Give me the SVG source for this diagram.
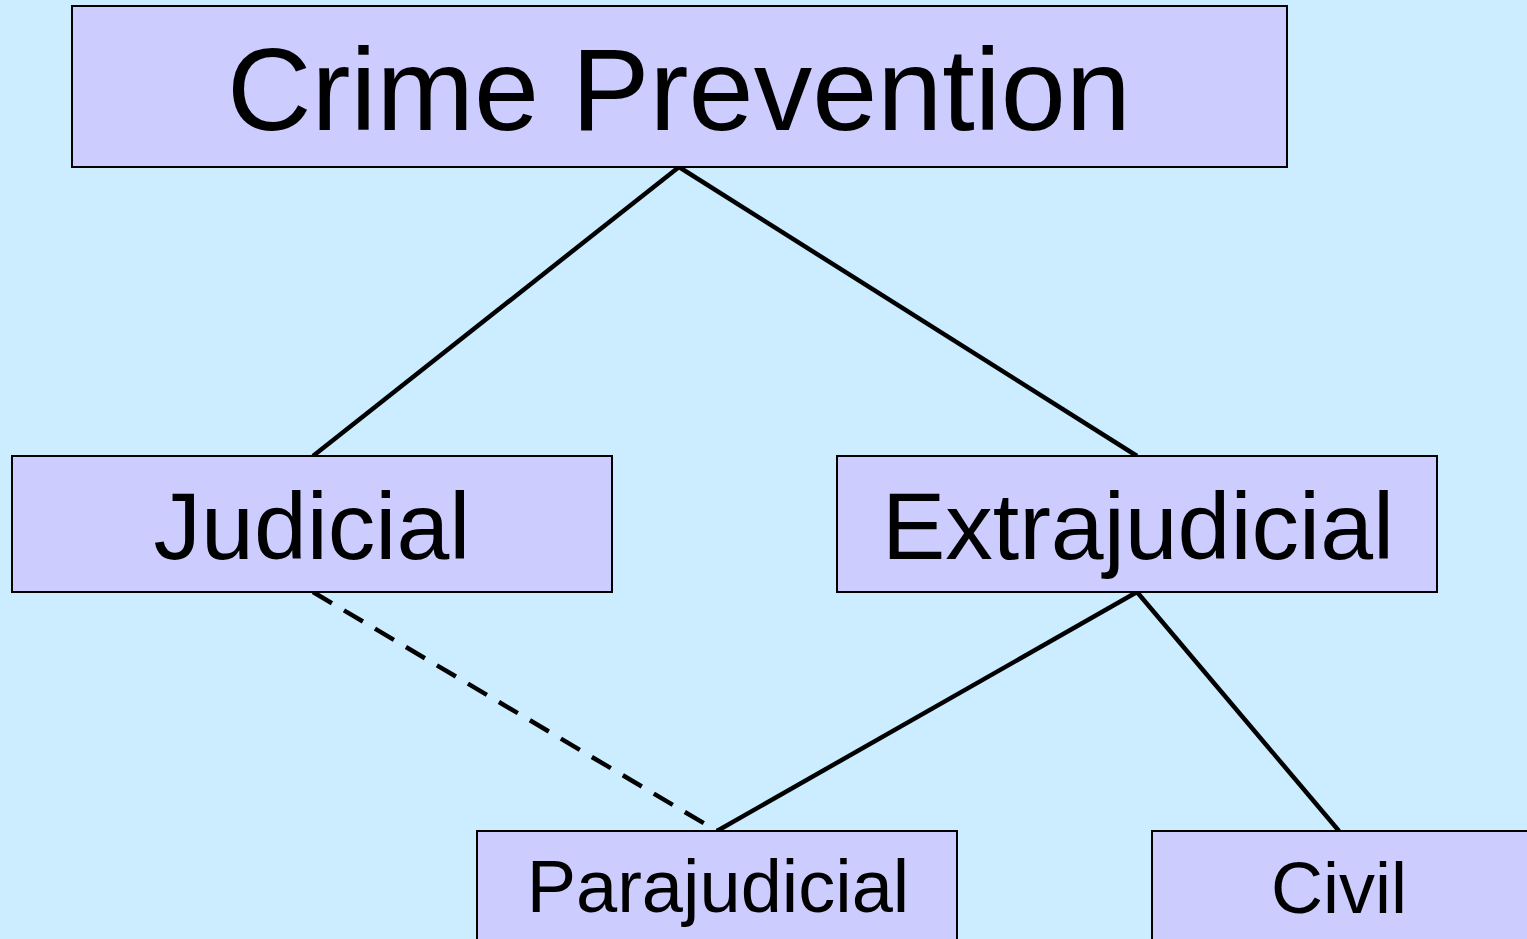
<svg xmlns="http://www.w3.org/2000/svg" width="1527" height="939" viewBox="0 0 1527 939">
<style>
.box{fill:#CCCCFF;stroke:#000;stroke-width:2}
.t{font-family:"Liberation Sans",Arial,sans-serif;fill:#000;text-anchor:middle}
.c{stroke:#000;stroke-width:4.5;fill:none}
.d{stroke-dasharray:22 14}
</style>
<rect width="1527" height="939" fill="#CCECFF"/>
<g id="connectors">
<line class="c" x1="679" y1="167" x2="313" y2="456"/>
<line class="c" x1="679" y1="167" x2="1137" y2="456"/>
<line class="c d" x1="313" y1="592" x2="717" y2="831"/>
<line class="c" x1="1137" y1="592" x2="717" y2="831"/>
<line class="c" x1="1137" y1="592" x2="1339" y2="831"/>
</g>
<g id="crime-prevention">
<rect class="box" x="72" y="6" width="1215" height="161"/>
<text class="t" x="679" y="130" font-size="117">Crime Prevention</text>
</g>
<g id="judicial">
<rect class="box" x="12" y="456" width="600" height="136"/>
<text class="t" x="312" y="559" font-size="95">Judicial</text>
</g>
<g id="extrajudicial">
<rect class="box" x="837" y="456" width="600" height="136"/>
<text class="t" x="1138" y="559" font-size="95">Extrajudicial</text>
</g>
<g id="parajudicial">
<rect class="box" x="477" y="831" width="480" height="120"/>
<text class="t" x="718" y="912" font-size="74">Parajudicial</text>
</g>
<g id="civil">
<rect class="box" x="1152" y="831" width="390" height="120"/>
<text class="t" x="1339" y="913" font-size="72">Civil</text>
</g>
</svg>
